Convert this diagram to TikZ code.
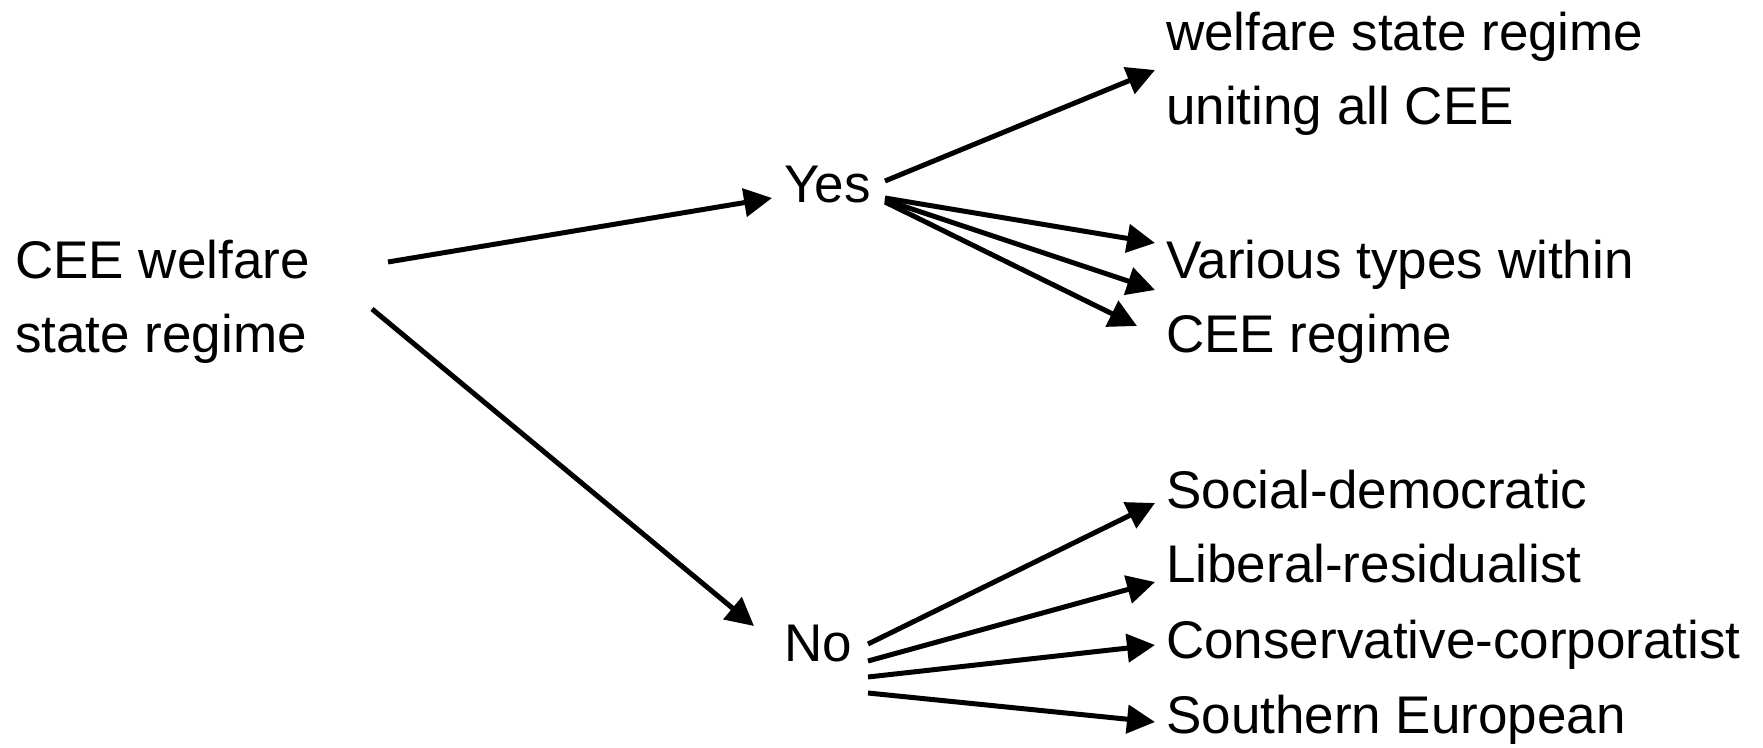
\documentclass[tikz,border=0pt]{standalone}
\usepackage{fontspec}
\setmainfont{Liberation Sans}
\usetikzlibrary{arrows.meta}
\begin{document}
\begin{tikzpicture}[x=1pt,y=-1pt,
  lbl/.style={inner sep=0pt, anchor=base west, align=left, font=\fontsize{53}{74}\selectfont},
  arr/.style={line width=5pt, -{Triangle[length=28pt,width=28pt]}}]
\useasboundingbox (0,0) rectangle (1763,747);
\node[lbl] (cee) at (15,352) {CEE welfare\\state regime};
\node[lbl] (yes) at (784,202) {Yes};
\node[lbl] (no) at (784,661) {No};
\node[lbl] (w1) at (1166,124) {welfare state regime\\uniting all CEE};
\node[lbl] (v) at (1166,352) {Various types within\\CEE regime};
\node[lbl] (s) at (1166,508) {Social-democratic};
\node[lbl] (l) at (1166,582) {Liberal-residualist};
\node[lbl] (c) at (1166,658) {Conservative-corporatist};
\node[lbl] (so) at (1166,733) {Southern European};
\draw[arr] ([shift={(373,-90)}]cee.base west) -- ([shift={(-12,-4)}]yes.base west);
\draw[arr] ([shift={(357,-43)}]cee.base west) -- ([shift={(-30,-35)}]no.base west);
\draw[arr] ([shift={(101,-21)}]yes.base west) -- ([shift={(-11,-54)}]w1.base west);
\draw[arr] ([shift={(101,-4)}]yes.base west) -- ([shift={(-11,-109)}]v.base west);
\draw[arr] ([shift={(101,-2)}]yes.base west) -- ([shift={(-11,-62)}]v.base west);
\draw[arr] ([shift={(101,0)}]yes.base west) -- ([shift={(-29,-26)}]v.base west);
\draw[arr] ([shift={(84,-17)}]no.base west) -- ([shift={(-11,-5)}]s.base west);
\draw[arr] ([shift={(84,0)}]no.base west) -- ([shift={(-11,0)}]l.base west);
\draw[arr] ([shift={(84,16)}]no.base west) -- ([shift={(-11,-13)}]c.base west);
\draw[arr] ([shift={(84,32)}]no.base west) -- ([shift={(-11,-11)}]so.base west);
\end{tikzpicture}
\end{document}
